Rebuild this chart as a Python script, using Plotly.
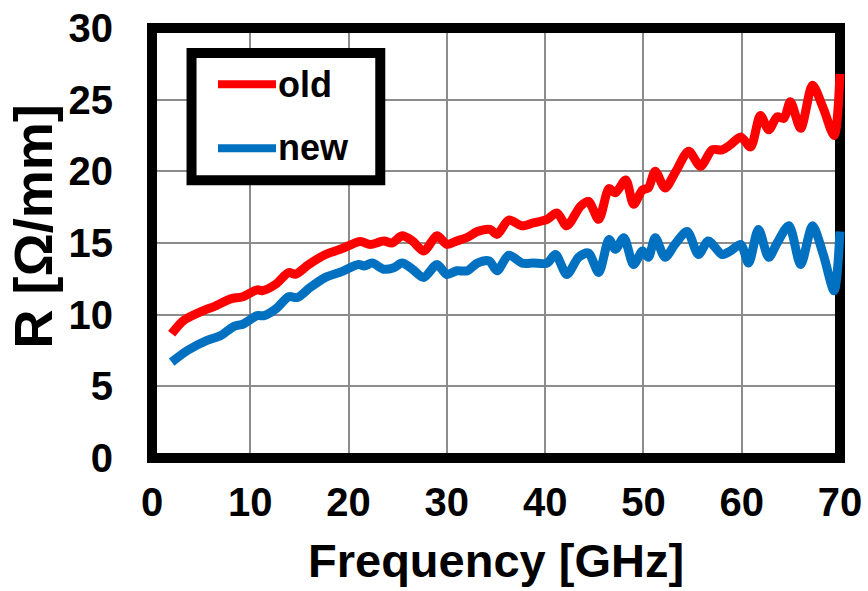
import plotly.graph_objects as go

freq_old = [2, 3.2, 5.3, 6.3, 8.0, 9.2, 10.7, 11.2, 12.6, 13.9, 14.6, 15.95, 17.65, 19.3,
            21.2, 22.2, 23.6, 24.4, 25.45, 26.5, 27.65, 29.0, 30.0, 31.0, 32.1, 33.1, 34.4,
            35.1, 36.3, 37.65, 38.8, 40.2, 41.2, 42.2, 43.6, 44.4, 45.45, 46.5, 47.15, 48.2,
            49.0, 49.9, 50.5, 51.2, 52.2, 53.3, 54.6, 55.8, 57.0, 58.0, 58.85, 59.9, 60.9,
            61.9, 62.75, 63.6, 64.3, 64.95, 66.0, 67.2, 68.3, 69.4, 70.0]
r_old = [8.66, 9.58, 10.3, 10.56, 11.1, 11.25, 11.73, 11.67, 12.13, 12.94, 12.82, 13.5, 14.2, 14.6,
         15.1, 14.9, 15.14, 15.0, 15.5, 15.14, 14.44, 15.5, 14.9, 15.14, 15.4, 15.8, 15.95,
         15.6, 16.6, 16.2, 16.4, 16.65, 17.1, 16.2, 17.57, 17.9, 16.65, 18.8, 18.5, 19.4,
         17.7, 18.7, 18.84, 20.0, 18.84, 20.0, 21.4, 20.35, 21.5, 21.5, 21.85, 22.4, 21.7,
         23.9, 22.9, 23.8, 23.7, 24.86, 23.0, 26.0, 24.4, 22.5, 26.8]

freq_new = [2, 3.6, 5.6, 7.0, 8.3, 9.3, 10.7, 11.4, 12.7, 13.9, 14.8, 16.1, 17.65, 19.3,
            21.0, 21.6, 22.4, 23.6, 24.6, 25.45, 26.5, 27.65, 29.0, 30.0, 31.0, 32.1, 33.1,
            34.3, 35.1, 36.3, 37.65, 38.8, 40.2, 41.05, 42.2, 43.4, 44.4, 45.45, 46.5, 47.15,
            48.0, 49.0, 49.9, 50.5, 51.2, 52.2, 53.2, 54.45, 55.6, 56.6, 58.0, 58.85, 59.9,
            60.7, 61.7, 62.75, 63.6, 64.8, 66.0, 67.2, 68.3, 69.4, 70.0]
r_new = [6.69, 7.5, 8.2, 8.54, 9.17, 9.35, 9.93, 9.93, 10.46, 11.25, 11.2, 11.9, 12.6, 13.0,
         13.5, 13.4, 13.6, 13.17, 13.28, 13.6, 13.17, 12.6, 13.5, 12.8, 13.06, 13.06, 13.6,
         13.75, 13.06, 14.15, 13.6, 13.6, 13.6, 14.2, 12.8, 14.0, 14.3, 12.94, 15.25, 14.56,
         15.37, 13.5, 14.44, 14.0, 15.37, 14.0, 14.9, 15.8, 14.2, 15.14, 14.2, 14.44, 14.9,
         13.6, 15.95, 14.0, 15.0, 16.2, 13.5, 16.2, 14.2, 11.67, 15.8]

x_ticks = [0, 10, 20, 30, 40, 50, 60, 70]
y_ticks = [0, 5, 10, 15, 20, 25, 30]
series_names = ["old", "new"]
series_colors = ["#FF0000", "#0070C0"]
x_title = "Frequency [GHz]"
y_title = "R [Ω/mm]"

FONT = "Liberation Sans, Arial, sans-serif"

fig = go.Figure()
fig.add_trace(go.Scatter(x=freq_old, y=r_old, mode="lines", name=series_names[0],
                         line=dict(color=series_colors[0], width=9, shape="spline", smoothing=0.8),
                         showlegend=False))
fig.add_trace(go.Scatter(x=freq_new, y=r_new, mode="lines", name=series_names[1],
                         line=dict(color=series_colors[1], width=9, shape="spline", smoothing=0.8),
                         showlegend=False))

axis_common = dict(showgrid=True, gridcolor="#8C8C8C", gridwidth=2, zeroline=False,
                   showline=False, ticks="", automargin=False,
                   tickfont=dict(family=FONT, size=40, color="black", weight="bold"))
# small padding so the thick frame (centred on the 0/70 and 0/30 lines) fits inside the plot area
fig.update_xaxes(range=[-0.51, 70.51], tickvals=x_ticks, ticklabelstandoff=12, **axis_common)
fig.update_yaxes(range=[-0.35, 30.35], tickvals=y_ticks, ticklabelstandoff=33, **axis_common)

shapes = [
    # plot frame, drawn above the grid but below the curves
    dict(type="rect", xref="x", yref="y", x0=0, x1=70, y0=0, y1=30,
         line=dict(color="black", width=10), layer="between"),
    # legend box
    dict(type="rect", xref="paper", yref="paper", x0=0.0638, x1=0.3342, y0=0.6425, y1=0.9318,
         line=dict(color="black", width=10), fillcolor="white", layer="above"),
    dict(type="line", xref="paper", yref="paper", x0=0.1017, x1=0.1848, y0=0.8607, y1=0.8607,
         line=dict(color=series_colors[0], width=8), layer="above"),
    dict(type="line", xref="paper", yref="paper", x0=0.1017, x1=0.1848, y0=0.7152, y1=0.7152,
         line=dict(color=series_colors[1], width=8), layer="above"),
]

annotations = [
    dict(text=series_names[0], xref="paper", yref="paper", x=0.1848, y=0.8607,
         xanchor="left", yanchor="middle", showarrow=False,
         font=dict(family=FONT, size=36, color="black", weight="bold")),
    dict(text=series_names[1], xref="paper", yref="paper", x=0.1848, y=0.7173,
         xanchor="left", yanchor="middle", showarrow=False,
         font=dict(family=FONT, size=36, color="black", weight="bold")),
    dict(text=x_title, xref="paper", yref="paper", x=0.5, y=-0.2227,
         xanchor="center", yanchor="middle", showarrow=False,
         font=dict(family=FONT, size=47, color="black", weight="bold")),
    dict(text=y_title, xref="paper", yref="paper", x=-0.164, y=0.5364, textangle=-90,
         xanchor="center", yanchor="middle", showarrow=False,
         font=dict(family=FONT, size=54, color="black", weight="bold")),
]

fig.update_layout(width=868, height=591, margin=dict(l=147, r=23, t=23, b=128),
                  paper_bgcolor="white", plot_bgcolor="white",
                  shapes=shapes, annotations=annotations, hovermode=False)

fig.write_html("out.html", config={"displayModeBar": False},
               post_script="document.body.style.margin='0';document.body.style.padding='0';"
                           "document.body.style.overflow='hidden';")
